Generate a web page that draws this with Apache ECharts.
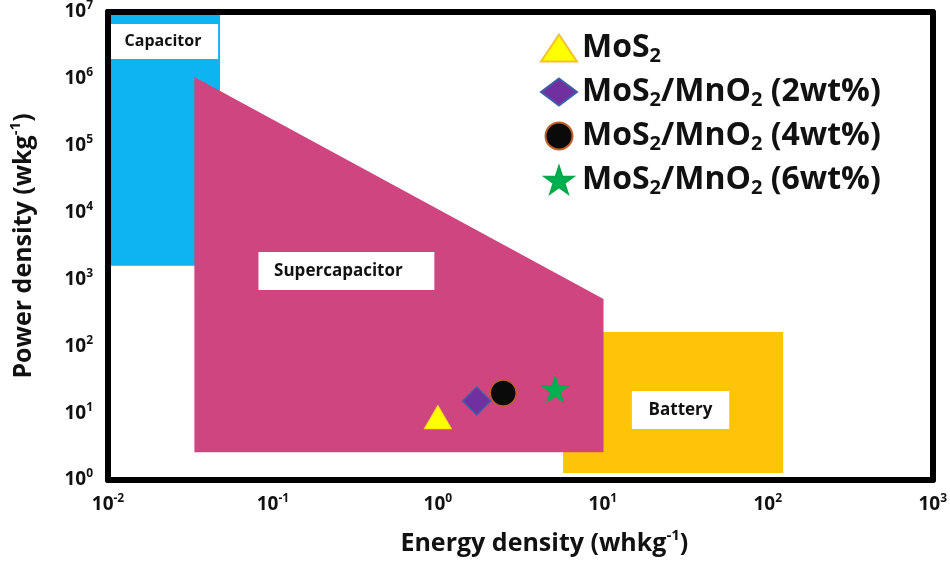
<!DOCTYPE html>
<html>
<head>
<meta charset="utf-8">
<script src="https://cdn.jsdelivr.net/npm/echarts@6/dist/echarts.min.js"></script>
<style>html,body{margin:0;padding:0;background:#fff}#c{width:950px;height:565px}</style>
</head>
<body>
<div id="c"></div>
<script>
// ---- data ----
const xTickExp = ['-2', '-1', '0', '1', '2', '3'];
const yTickExp = ['0', '1', '2', '3', '4', '5', '6', '7'];
// regions: vertices (energy density, power density)
const capacitorRegion = [[0.01, 1e7], [0.0478, 1e7], [0.0478, 1600], [0.01, 1600]];
const batteryRegion = [[5.74, 164], [124, 164], [124, 1.27], [5.74, 1.27]];
const supercapRegion = [[0.0334, 1.07e6], [10.1, 510], [10.1, 2.6], [0.0334, 2.6]];
// region label boxes (x0, y0, x1, y1)
const capacitorLabelBox = [0.01, 6.6e6, 0.0465, 1.98e6];
const supercapLabelBox = [0.0817, 2570, 0.952, 695];
const batteryLabelBox = [15, 21.4, 58.4, 5.8];
const regionNames = ['Capacitor', 'Supercapacitor', 'Battery'];
// measured samples
const seriesNames = ['MoS2', 'MoS2/MnO2 (2wt%)', 'MoS2/MnO2 (4wt%)', 'MoS2/MnO2 (6wt%)'];
const legendLabels = ['{m|MoS}{s|2}', '{m|MoS}{s|2}{m|/MnO}{s|2}{m| (2wt%)}', '{m|MoS}{s|2}{m|/MnO}{s|2}{m| (4wt%)}', '{m|MoS}{s|2}{m|/MnO}{s|2}{m| (6wt%)}'];
const mos2 = [[1.0, 8.75]];
const mno2wt2 = [[1.72, 15.2]];
const mno2wt4 = [[2.49, 20]];
const mno2wt6 = [[5.15, 23]];

const FONT = '"Open Sans", sans-serif';
const STAR = 'path://M50,0 L61.2,34.5 L97.6,34.5 L68.2,55.9 L79.4,90.5 L50,69.1 L20.6,90.5 L31.8,55.9 L2.4,34.5 L38.8,34.5 Z';

function polyRender(vertices, color) {
  return function (params, api) {
    if (params.dataIndex !== 0) return null;
    return { type: 'polygon', shape: { points: vertices.map(p => api.coord(p)) }, style: { fill: color } };
  };
}
function labelRender(text, size, offset) {
  return function (params, api) {
    const p0 = api.coord([api.value(0), api.value(1)]);
    const p1 = api.coord([api.value(2), api.value(3)]);
    return {
      type: 'rect',
      shape: { x: Math.min(p0[0], p1[0]), y: Math.min(p0[1], p1[1]), width: Math.abs(p1[0] - p0[0]), height: Math.abs(p1[1] - p0[1]) },
      style: { fill: '#ffffff' },
      textContent: { style: { text: text, fontFamily: FONT, fontWeight: 'bold', fontSize: size, fill: '#111' } },
      textConfig: { position: 'inside', offset: offset || [0, 0] }
    };
  };
}
const rectEncode = { x: [0, 2], y: [1, 3] };

const chart = echarts.init(document.getElementById('c'));
const axisLineStyle = { show: true, onZero: false, lineStyle: { color: '#000', width: 6 } };
const tickRich = {
  b: { fontFamily: FONT, fontWeight: 'bold', fontSize: 19, lineHeight: 24, color: '#111' },
  s: { fontFamily: FONT, fontWeight: 'bold', fontSize: 12, lineHeight: 12, verticalAlign: 'top', color: '#111' }
};
const nameRich = {
  b: { fontFamily: FONT, fontWeight: 'bold', fontSize: 25, lineHeight: 32, color: '#111' },
  s: { fontFamily: FONT, fontWeight: 'bold', fontSize: 15, lineHeight: 14, verticalAlign: 'top', color: '#111' }
};

chart.setOption({
  animation: false,
  backgroundColor: '#fff',
  grid: { left: 101, right: 10, top: 12, bottom: 85 },
  xAxis: [{
    type: 'log', logBase: 10, min: 0.01, max: 1000, z: 10,
    axisLine: axisLineStyle, axisTick: { show: false }, splitLine: { show: false },
    axisLabel: { margin: 13, formatter: v => '{b|10}{s|' + xTickExp[Math.round(Math.log10(v)) + 2] + '}', rich: tickRich },
    name: '{b|Energy density (whkg}{s|-1}{b|)}', nameLocation: 'middle', nameGap: 48,
    nameTextStyle: { rich: nameRich, padding: [0, 0, 0, 48] }
  }, {
    type: 'log', logBase: 10, min: 0.01, max: 1000, position: 'top', z: 10,
    axisLine: axisLineStyle, axisTick: { show: false }, splitLine: { show: false }, axisLabel: { show: false }
  }],
  yAxis: [{
    type: 'log', logBase: 10, min: 1, max: 1e7, z: 10,
    axisLine: axisLineStyle, axisTick: { show: false }, splitLine: { show: false },
    axisLabel: { margin: 15, formatter: v => '{b|10}{s|' + yTickExp[Math.round(Math.log10(v))] + '}', rich: tickRich },
    name: '{b|Power density (wkg}{s|-1}{b|)}', nameLocation: 'middle', nameGap: 68,
    nameTextStyle: { rich: nameRich }
  }, {
    type: 'log', logBase: 10, min: 1, max: 1e7, position: 'right', z: 10,
    axisLine: axisLineStyle, axisTick: { show: false }, splitLine: { show: false }, axisLabel: { show: false }
  }],
  legend: {
    orient: 'vertical', left: 535, top: 27, itemWidth: 36, itemHeight: 27, itemGap: 10,
    data: seriesNames,
    formatter: name => legendLabels[seriesNames.indexOf(name)],
    textStyle: {
      fontFamily: FONT, fontWeight: 'bold', fontSize: 32, color: '#111',
      rich: {
        m: { fontFamily: FONT, fontWeight: 'bold', fontSize: 32, lineHeight: 36, color: '#111' },
        s: { fontFamily: FONT, fontWeight: 'bold', fontSize: 20, lineHeight: 16, verticalAlign: 'bottom', color: '#111' }
      }
    }
  },
  series: [
    { type: 'custom', name: regionNames[0], data: capacitorRegion, encode: { x: 0, y: 1 }, renderItem: polyRender(capacitorRegion, '#0DB4F0'), z: 1, silent: true },
    { type: 'custom', name: regionNames[2], data: batteryRegion, encode: { x: 0, y: 1 }, renderItem: polyRender(batteryRegion, '#FFC408'), z: 1, silent: true },
    { type: 'custom', name: regionNames[1], data: supercapRegion, encode: { x: 0, y: 1 }, renderItem: polyRender(supercapRegion, '#CF4580'), z: 2, silent: true },
    { type: 'custom', data: [capacitorLabelBox], encode: rectEncode, renderItem: labelRender(regionNames[0], 16), z: 3, silent: true },
    { type: 'custom', data: [supercapLabelBox], encode: rectEncode, renderItem: labelRender(regionNames[1], 17, [-8, 0]), z: 3, silent: true },
    { type: 'custom', data: [batteryLabelBox], encode: rectEncode, renderItem: labelRender(regionNames[2], 17), z: 3, silent: true },
    { type: 'scatter', name: seriesNames[0], data: mos2, symbol: 'triangle', symbolSize: [28, 24], z: 5,
      itemStyle: { color: '#FFFF00', borderColor: '#F2C030', borderWidth: 0.6, opacity: 1 } },
    { type: 'scatter', name: seriesNames[1], data: mno2wt2, symbol: 'diamond', symbolSize: 28, z: 5,
      itemStyle: { color: '#7030A0', borderColor: '#3F5EA8', borderWidth: 1.5, opacity: 1 } },
    { type: 'scatter', name: seriesNames[2], data: mno2wt4, symbol: 'circle', symbolSize: 26, z: 5,
      itemStyle: { color: '#0A0A0A', borderColor: '#C0602A', borderWidth: 1.5, opacity: 1 } },
    { type: 'scatter', name: seriesNames[3], data: mno2wt6, symbol: STAR, symbolSize: 28, z: 5,
      itemStyle: { color: '#00B050', borderColor: '#00A848', borderWidth: 0.5, opacity: 1 } }
  ]
});
</script>
</body>
</html>
